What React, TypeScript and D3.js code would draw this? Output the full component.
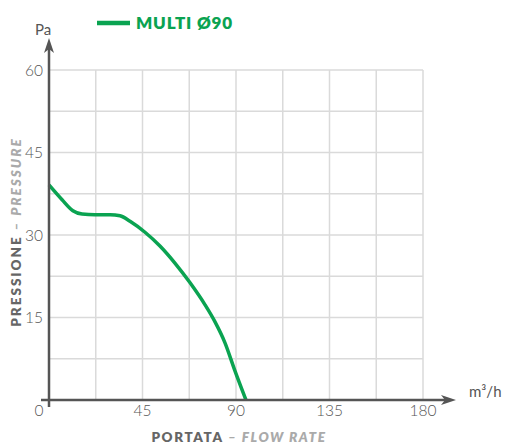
import React from "react";
import * as d3 from "d3";

const flow = [0, 6.3, 11.5, 15.9, 22.1, 29.4, 34.2, 39, 46.2, 53.4, 60.6, 67.9, 75.1, 79.9, 84.7, 89.5, 94.8];
const pressure = [39.1, 36.4, 34.4, 33.8, 33.7, 33.7, 33.5, 32.5, 30.5, 28, 24.9, 21.3, 17.3, 14.2, 10.4, 5.3, 0];
const xTicks = [0, 45, 90, 135, 180];
const yTicks = [15, 30, 45, 60];
const xGrid = [22.5, 45, 67.5, 90, 112.5, 135, 157.5, 180];
const yGrid = [7.5, 15, 22.5, 30, 37.5, 45, 52.5, 60];
const seriesName = "MULTI Ø90";

const W = 506, H = 444;
const x0 = 49, x1 = 423, y0 = 400, y1 = 70;
const green = "#0aa351";
const axisCol = "#555";
const font = "Lato, 'Open Sans', sans-serif";

export default function App() {
  const x = d3.scaleLinear().domain([0, 180]).range([x0, x1]);
  const y = d3.scaleLinear().domain([0, 60]).range([y0, y1]);
  const pts = flow.map((f, i) => [f, pressure[i]] as [number, number]);
  const line = d3.line<[number, number]>().x(d => x(d[0])).y(d => y(d[1])).curve(d3.curveMonotoneX);
  return (
    <svg width={W} height={H} style={{ position: "absolute", left: 0, top: 0 }} fontFamily={font}>
      {xGrid.map(v => (
        <line key={"gx" + v} x1={x(v)} x2={x(v)} y1={y(60)} y2={y0} stroke="#dadada" strokeWidth={1.5} />
      ))}
      {yGrid.map(v => (
        <line key={"gy" + v} x1={x0} x2={x(180)} y1={y(v)} y2={y(v)} stroke="#dadada" strokeWidth={1.5} />
      ))}
      <path d={line(pts) || ""} fill="none" stroke={green} strokeWidth={3.5} strokeLinejoin="round" />
      {/* axes */}
      <line x1={x0} x2={x0} y1={407} y2={46} stroke={axisCol} strokeWidth={2.5} />
      <path d={`M${x0},38 L${x0 - 5},53 L${x0},49 L${x0 + 5},53 Z`} fill={axisCol} />
      <line x1={41} x2={448} y1={y0} y2={y0} stroke={axisCol} strokeWidth={2.5} />
      <path d={`M456,${y0} L441,${y0 - 5} L445,${y0} L441,${y0 + 5} Z`} fill={axisCol} />
      {/* tick labels */}
      {yTicks.map(v => (
        <text key={"yt" + v} x={43} y={y(v) + 5.5} textAnchor="end" fontSize={15.5} fill="#555" fontWeight={300}>{v}</text>
      ))}
      {xTicks.map(v => (
        <text key={"xt" + v} x={v === 0 ? 39 : x(v)} y={416} textAnchor="middle" fontSize={15.5} fill="#555" fontWeight={300}>{v}</text>
      ))}
      <text x={43} y={35} textAnchor="middle" fontSize={15} fill="#555">Pa</text>
      <text x={469} y={397} fontSize={15} fill="#555">m³/h</text>
      {/* axis titles */}
      <text x={239} y={442} textAnchor="middle" fontSize={13.5} fontWeight={800} letterSpacing={1.6}>
        <tspan fill="#666">PORTATA</tspan>
        <tspan fill="#aaa" fontStyle="italic"> – FLOW RATE</tspan>
      </text>
      <text transform="translate(21,232) rotate(-90)" textAnchor="middle" fontSize={13.5} fontWeight={800} letterSpacing={2}>
        <tspan fill="#666">PRESSIONE</tspan>
        <tspan fill="#aaa" fontStyle="italic"> – PRESSURE</tspan>
      </text>
      {/* legend */}
      <line x1={97} x2={130} y1={23} y2={23} stroke={green} strokeWidth={4.5} />
      <text x={136} y={29} fontSize={17} fontWeight={800} fill={green} letterSpacing={0.8}>{seriesName}</text>
    </svg>
  );
}
